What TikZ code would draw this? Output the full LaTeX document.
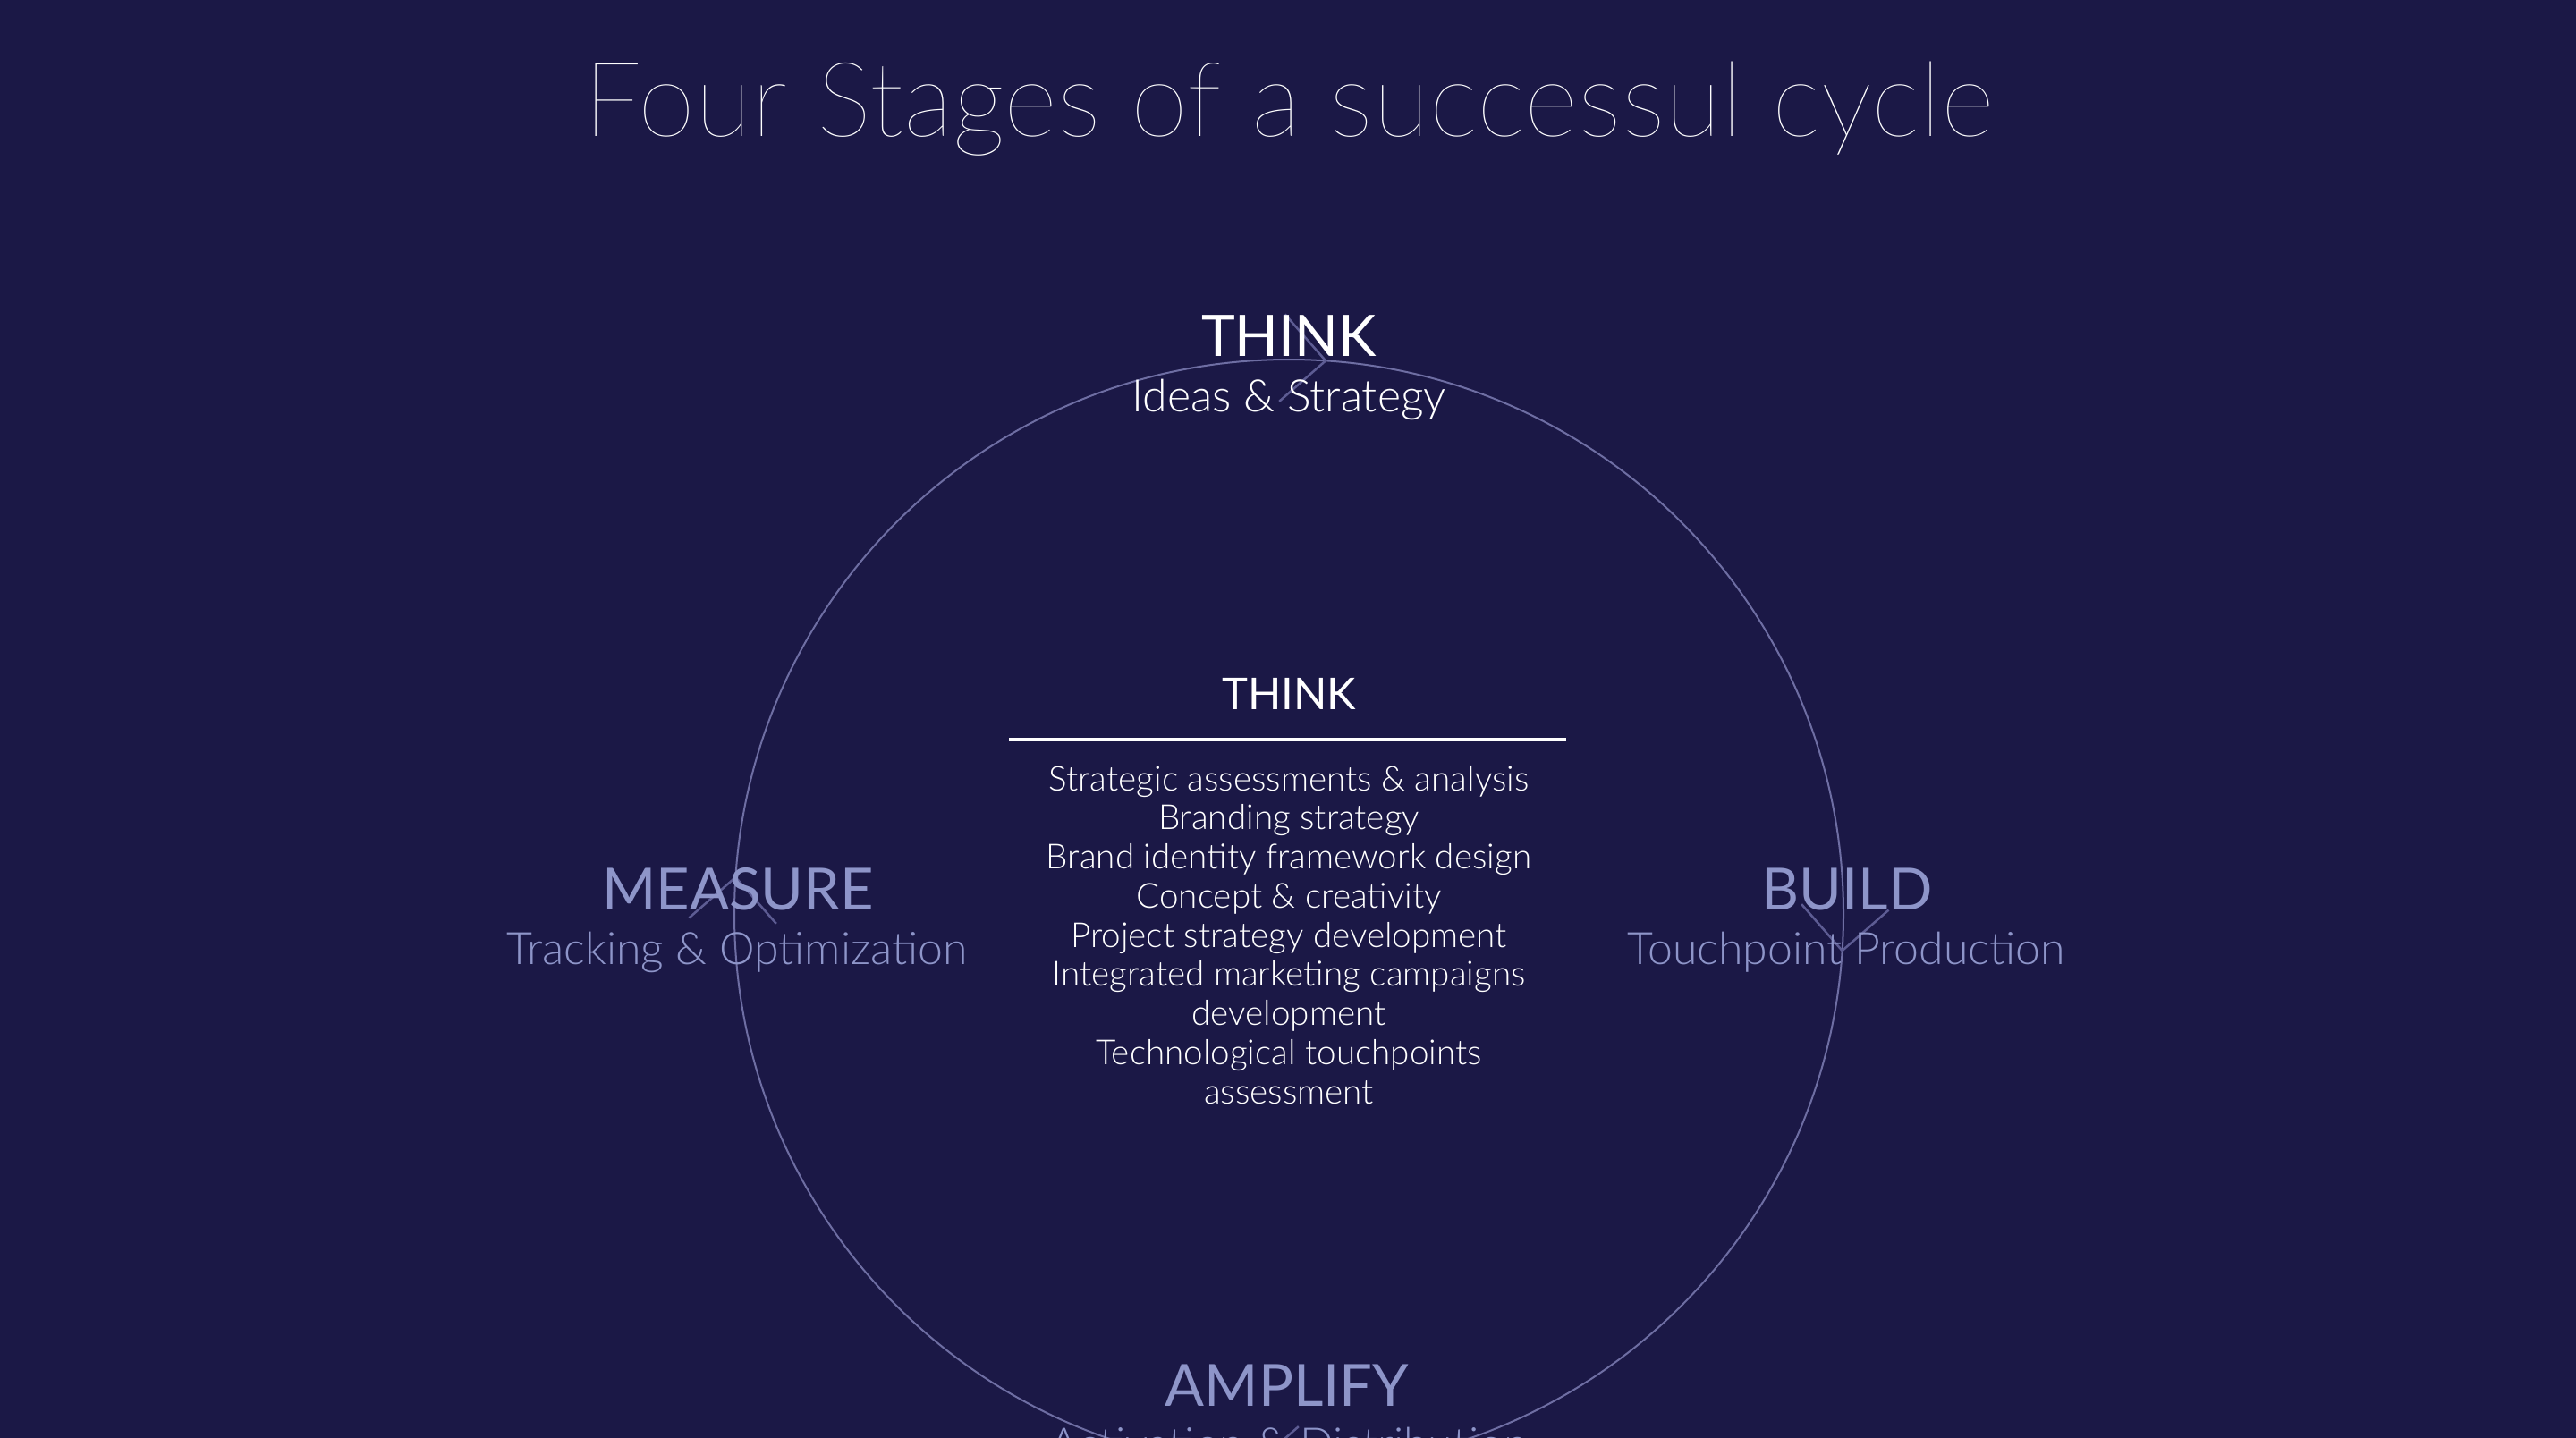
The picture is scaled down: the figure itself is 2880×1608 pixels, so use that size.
\documentclass[tikz,border=0pt]{standalone}
\usepackage{fontspec}
\setmainfont{Lato}
\newfontfamily\lightfont{Lato Light}
\newfontfamily\thinfont{Lato Thin}
\usetikzlibrary{calc}
\definecolor{bg}{HTML}{1B1846}
\definecolor{stage}{HTML}{8E95C9}
\definecolor{ringc}{HTML}{6E6EA3}
\definecolor{chevc}{HTML}{5D5C93}
\tikzset{
  lbl/.style={anchor=base, inner sep=0pt, outer sep=0pt},
  titletext/.style={lbl, text=white, font=\thinfont\fontsize{116}{138}\selectfont},
  headtext/.style={lbl, font=\fontsize{65}{78}\selectfont},
  subtext/.style={lbl, font=\lightfont\fontsize{50}{60}\selectfont},
  paneltitle/.style={lbl, text=white, font=\fontsize{49}{58}\selectfont},
  bodytext/.style={lbl, text=white, font=\lightfont\fontsize{38.6}{46}\selectfont},
  ringline/.style={draw=ringc, line width=2pt},
  chevline/.style={draw=chevc, line width=2.5pt},
  ruleline/.style={draw=white, line width=4pt}
}
\begin{document}
\begin{tikzpicture}[x=1pt,y=-1pt]
\useasboundingbox (0,0) rectangle (2880,1608);
\fill[bg] (0,0) rectangle (2880,1608);
\clip (0,0) rectangle (2880,1608);
\coordinate (c) at (1441,1022);
\path[ringline] (c) circle [radius=620];
\foreach \a [count=\i] in {-86.2,3.8,93.8,183.8} {
  \coordinate (tip\i) at ($(c)+(\a:620)$);
  \coordinate (armA\i) at ($(tip\i)+(\a-45:69)$);
  \coordinate (armB\i) at ($(tip\i)+(\a-135:69)$);
  \path[chevline] (armA\i) -- (tip\i) -- (armB\i);
}
\node[titletext] (title) at (1441,153) {Four Stages of a successul cycle};
\node[headtext, text=white, font=\fontsize{64}{76}\selectfont] (think) at (1441,398) {THINK};
\node[subtext, text=white] (thinksub) at (1441,460) {Ideas \& Strategy};
\node[headtext, text=stage] (measure) at (825,1017) {MEASURE};
\node[subtext, text=stage] (measuresub) at (824,1078) {Tracking \& Optimization};
\node[headtext, text=stage] (build) at (2065,1017) {BUILD};
\node[subtext, text=stage] (buildsub) at (2064,1078) {Touchpoint Production};
\node[headtext, text=stage] (amplify) at (1439,1572) {AMPLIFY};
\node[subtext, text=stage] (amplifysub) at (1441,1632) {Activation \& Distribution};
\node[paneltitle] (ptitle) at (1441,793) {THINK};
\coordinate (rl) at (1128,826.5);
\coordinate (rr) at (1751,826.5);
\path[ruleline] (rl) -- (rr);
\foreach \t [count=\k from 0] in {Strategic assessments \& analysis, Branding strategy, Brand identity framework design, Concept \& creativity, Project strategy development, Integrated marketing campaigns, development, Technological touchpoints, assessment} {
  \node[bodytext] (body\k) at (1441,884+\k*43.75) {\t};
}
\end{tikzpicture}
\end{document}
